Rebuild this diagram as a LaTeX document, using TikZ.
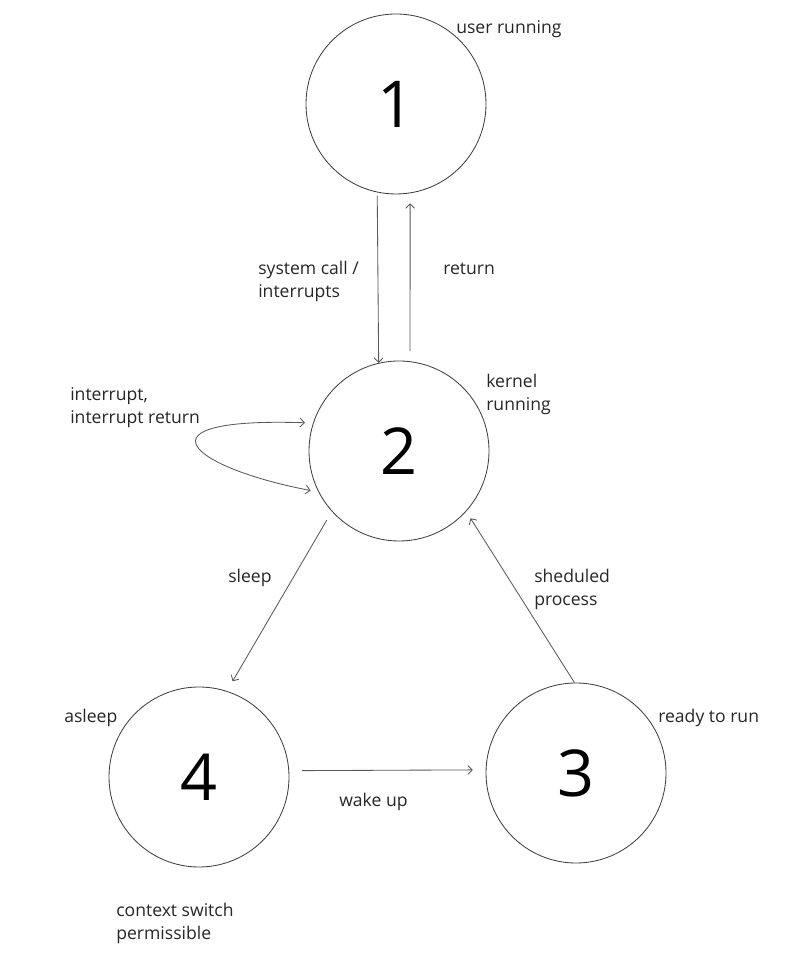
\documentclass[tikz,border=0pt]{standalone}
\usepackage{fontspec}
\setmainfont{Open Sans}
\usetikzlibrary{positioning, arrows.meta}

\tikzset{
  state/.style={circle, draw=black!75, line width=0.6pt, minimum size=4.5cm,
    font=\fontsize{46}{46}\selectfont},
  lbl/.style={anchor=west, inner sep=0pt, align=left, text=black!85},
  edge/.style={->, draw=black!65, line width=0.6pt}
}

\begin{document}
\begin{tikzpicture}[>={Straight Barb[length=1.1mm, width=2.2mm]},
    font=\fontsize{12.5}{16.3}\selectfont]
      \useasboundingbox (0,0) rectangle (20.225,23.825);
      % states
      \node[state] (one) at (9.9,21.225) {1};
      \node[state] (two) at (9.975,12.55) {2};
      \node[state] (four) at (4.975,4.4) {4};
      \node[state] (three) at (14.4,4.5) {3};

      % transitions
      \draw[edge, shorten <=0.08cm] (one.258) -- (two.103.5);
      \draw[edge, shorten <=0.25cm, shorten >=0.25cm] (two.83) -- (one.279);
      \draw[edge, <->, shorten <=0.2cm, shorten >=0.2cm] (two.162)
        .. controls (3.3,13.4) and (4.7,12.15) .. (two.207);
      \draw[edge, shorten <=0.25cm, shorten >=0.28cm] (two.222) -- (four.72);
      \draw[edge, shorten <=0.32cm, shorten >=0.32cm] (four.4) -- (three.178.7);
      \draw[edge, shorten >=0.2cm] (three.91) -- (two.318);

      % labels
      \node[lbl] (lone) at (11.4,23.1) {user running};
      \node[lbl] (ltwo) at (12.15,13.96) {kernel\\running};
      \node[lbl] (lthree) at (16.45,5.88) {ready to run};
      \node[lbl] (lfour) at (1.6,5.88) {asleep};
      \node[lbl] (lctx) at (2.9,0.75) {context switch\\permissible};
      \node[lbl] (lsys) at (6.45,16.8) {system call /\\interrupts};
      \node[lbl] (lret) at (11.075,17.1) {return};
      \node[lbl] (lint) at (1.75,13.64) {interrupt,\\interrupt return};
      \node[lbl] (lsleep) at (5.7,9.38) {sleep};
      \node[lbl] (lsched) at (13.35,9.08) {sheduled\\process};
      \node[lbl] (lwake) at (8.475,3.78) {wake up};
    \end{tikzpicture}
\end{document}
